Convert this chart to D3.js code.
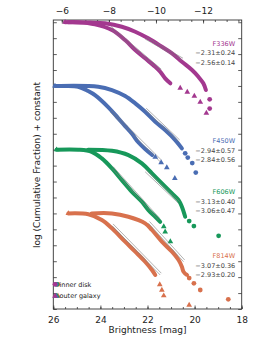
<!DOCTYPE html>
<html>
<head>
<meta charset="utf-8">
<script src="https://cdn.jsdelivr.net/npm/d3@7"></script>
<style>
body { margin: 0; background: #fff; }
text { font-family: "DejaVu Sans", sans-serif; }
</style>
</head>
<body>
<svg id="chart" width="258" height="343"></svg>
<script>
// filters, offsets (the "+ constant") and fitted slopes
const filters = ["F336W", "F450W", "F606W", "F814W"];
const offsets = [0, -2, -4, -6];
const slopeLine1 = ["\u22122.31\u00b10.24", "\u22122.94\u00b10.57", "\u22123.13\u00b10.40", "\u22123.07\u00b10.36"];
const slopeLine2 = ["\u22122.56\u00b10.14", "\u22122.84\u00b10.56", "\u22123.06\u00b10.47", "\u22122.93\u00b10.20"];
const distMod = 31.64;

// [brightness mag, log cumulative fraction]
const f336Inner = [[25.37,0],[24.44,-0.01],[23.80,-0.035],[23.09,-0.141],[22.52,-0.298],[21.97,-0.505],[21.39,-0.769],[20.96,-0.976],[20.54,-1.240],[20.11,-1.500],[19.84,-1.711],[19.63,-1.918],[19.52,-2.128]];
const f336InnerTail = [[19.36,-2.42],[19.36,-2.71]];
const f336Outer = [[25.50,0],[24.94,0],[24.23,-0.066],[23.51,-0.245],[22.95,-0.559],[22.52,-0.873],[22.10,-1.133],[21.67,-1.397],[21.46,-1.554],[21.25,-1.761],[21.03,-1.918]];
const f336OuterTail = [[20.61,-2.065],[20.31,-2.191],[20.01,-2.316],[19.76,-2.505],[19.50,-2.850]];
const f336Fits = [[22.10,-0.527,20.54,-1.186],[23.59,-0.191,21.46,-1.532]];

const f450Inner = [[25.71,0],[24.09,-0.025],[23.51,-0.129],[22.95,-0.317],[22.52,-0.546],[22.10,-0.810],[21.67,-1.124],[21.25,-1.384],[20.82,-1.698],[20.54,-1.959]];
const f450InnerTail = [[20.40,-2.115],[20.29,-2.247],[20.10,-2.420],[19.95,-2.718]];
const f450Outer = [[25.93,0],[25.50,0],[24.94,-0.025],[24.52,-0.16],[24.23,-0.286],[23.67,-0.662],[23.25,-1.008],[22.95,-1.259],[22.65,-1.510],[22.40,-1.761],[22.10,-1.981],[21.80,-2.169]];
const f450OuterTail = [[21.67,-2.232],[21.42,-2.404],[21.18,-2.561],[20.84,-2.900]];
const f450Fits = [[22.10,-0.756,20.68,-1.751],[23.59,-0.810,21.46,-2.379]];

const f606Inner = [[24.52,0],[23.51,-0.035],[22.81,-0.169],[22.24,-0.43],[21.81,-0.744],[21.39,-1.058],[20.96,-1.372],[20.68,-1.582],[20.54,-1.792],[20.40,-2.106]];
const f606InnerTail = [[20.23,-2.241],[20.03,-2.398],[18.98,-2.702]];
const f606Outer = [[25.86,0],[24.94,0],[24.37,-0.066],[23.94,-0.273],[23.51,-0.587],[23.09,-0.954],[22.66,-1.321],[22.24,-1.635],[21.96,-1.896],[21.67,-2.106],[21.46,-2.263]];
const f606OuterTail = [[21.31,-2.414],[21.25,-2.577],[21.03,-2.884]];
const f606Fits = [[22.10,-0.694,20.68,-1.686],[23.51,-0.587,21.53,-2.21]];

const f814Inner = [[24.37,0],[23.51,0],[22.81,-0.104],[22.10,-0.311],[21.81,-0.521],[21.39,-0.888],[20.96,-1.202],[20.68,-1.463],[20.54,-1.673],[20.47,-1.830],[20.32,-1.933]];
const f814InnerTail = [[20.23,-2.028],[20.03,-2.194],[19.76,-2.404],[18.57,-2.696]];
const f814Outer = [[25.36,0],[24.51,-0.028],[23.94,-0.207],[23.51,-0.468],[22.95,-0.888],[22.52,-1.202],[22.10,-1.516],[21.81,-1.777],[21.67,-1.933]];
const f814OuterTail = [[21.48,-2.232],[21.39,-2.404],[21.31,-2.583],[20.23,-2.875]];
const f814Fits = [[21.96,-0.311,20.47,-1.516],[23.51,-0.386,21.46,-1.933]];

const legendLabels = ["inner disk", "outer galaxy"];

const colors = ["#a3388f", "#4a6db3", "#17985a", "#d8714d"];
const labelTop = [-0.74, -1.8, -1.4, -1.4];

const groups = filters.map((f, i) => ({
    name: f, off: offsets[i], color: colors[i], labelTop: labelTop[i],
    slopes: [slopeLine1[i], slopeLine2[i]],
    inner: [f336Inner, f450Inner, f606Inner, f814Inner][i],
    innerTail: [f336InnerTail, f450InnerTail, f606InnerTail, f814InnerTail][i],
    outer: [f336Outer, f450Outer, f606Outer, f814Outer][i],
    outerTail: [f336OuterTail, f450OuterTail, f606OuterTail, f814OuterTail][i],
    fits: [f336Fits, f450Fits, f606Fits, f814Fits][i]
}));

const svg = d3.select("svg#chart");
const width = +svg.attr("width");
const height = +svg.attr("height");
const margin = { top: 20, right: 16.3, bottom: 34, left: 53.3 };

const x = d3.scaleLinear().domain([26, 18]).range([margin.left, width - margin.right]);
const xTop = d3.scaleLinear().domain([26 - distMod, 18 - distMod]).range([margin.left, width - margin.right]);
const y = d3.scaleLinear().domain([-9.0, 0.07]).range([height - margin.bottom, margin.top]);

const axes = svg.append("g").attr("id", "axes");
const plot = svg.append("g").attr("id", "plot");

// frame
axes.append("rect")
    .attr("x", margin.left).attr("y", margin.top)
    .attr("width", width - margin.left - margin.right)
    .attr("height", height - margin.top - margin.bottom)
    .attr("fill", "none").attr("stroke", "#333").attr("stroke-width", 0.9);

function styleAxis(g) {
    g.select(".domain").remove();
    g.selectAll("line").attr("stroke", "#333").attr("stroke-width", 0.8);
    g.selectAll("text").attr("fill", "#222").style("font-size", "9px");
}

const yB = height - margin.bottom;
axes.append("g").attr("transform", `translate(0,${yB})`)
    .call(d3.axisBottom(x).tickValues(d3.range(26, 17.9, -0.5)).tickSize(-2).tickFormat(""))
    .call(styleAxis);
axes.append("g").attr("transform", `translate(0,${yB})`)
    .call(d3.axisBottom(x).tickValues([26, 24, 22, 20, 18]).tickSize(-3.5).tickPadding(7.5).tickFormat(d3.format("d")))
    .call(styleAxis);

axes.append("g").attr("transform", `translate(0,${margin.top})`)
    .call(d3.axisTop(xTop).tickValues(d3.range(-6, -13.6, -0.5)).tickSize(-2).tickFormat(""))
    .call(styleAxis);
axes.append("g").attr("transform", `translate(0,${margin.top})`)
    .call(d3.axisTop(xTop).tickValues([-6, -8, -10, -12]).tickSize(-3.5).tickPadding(6.5)
        .tickFormat(d => "\u2212" + Math.abs(d)))
    .call(styleAxis);

const yTicks = d3.range(-9, 0.01, 0.5);
axes.append("g").attr("transform", `translate(${margin.left},0)`)
    .call(d3.axisLeft(y).tickValues(yTicks).tickSize(-3.5).tickFormat(""))
    .call(styleAxis);
axes.append("g").attr("transform", `translate(${width - margin.right},0)`)
    .call(d3.axisRight(y).tickValues(yTicks).tickSize(-3.5).tickFormat(""))
    .call(styleAxis);

// axis titles
axes.append("text")
    .attr("x", (margin.left + width - margin.right) / 2).attr("y", 332.5)
    .attr("text-anchor", "middle").style("font-size", "9px").attr("fill", "#222")
    .text("Brightness [mag]");
axes.append("text")
    .attr("transform", "translate(39.5,165) rotate(-90)")
    .attr("text-anchor", "middle").style("font-size", "9px").attr("fill", "#222")
    .text("log (Cumulative Fraction) + constant");

const tri = d3.symbol(d3.symbolTriangle).size(14);
const circ = d3.symbol(d3.symbolCircle).size(18);

groups.forEach(g => {
    const line = d3.line()
        .x(d => x(d[0]))
        .y(d => y(d[1] + g.off))
        .curve(d3.curveCatmullRom.alpha(0.5));

    const grp = plot.append("g").attr("class", "filter").attr("id", g.name);

    [g.outer, g.inner].forEach(band => {
        grp.append("path")
            .attr("d", line(band))
            .attr("fill", "none")
            .attr("stroke", g.color)
            .attr("stroke-width", 4)
            .attr("stroke-linecap", "round")
            .attr("stroke-linejoin", "round");
    });

    // first outer point is shown as a triangle
    grp.append("path")
        .attr("transform", `translate(${x(g.outer[0][0])},${y(g.outer[0][1] + g.off)})`)
        .attr("d", tri()).attr("fill", g.color);

    // fitted power laws, drawn as a thin double line
    g.fits.forEach(f => {
        [0, 1].forEach(k => {
            grp.append("line")
                .attr("x1", x(f[0])).attr("y1", y(f[1] + g.off))
                .attr("x2", x(f[2])).attr("y2", y(f[3] + g.off))
                .attr("transform", `translate(${k * 1.1},${-k * 1.8})`)
                .attr("stroke", "#7d7d7d").attr("stroke-width", 0.6);
        });
    });

    grp.selectAll("path.tri").data(g.outerTail).join("path")
        .attr("class", "tri")
        .attr("transform", d => `translate(${x(d[0])},${y(d[1] + g.off)})`)
        .attr("d", tri()).attr("fill", g.color);
    grp.selectAll("path.circ").data(g.innerTail).join("path")
        .attr("class", "circ")
        .attr("transform", d => `translate(${x(d[0])},${y(d[1] + g.off)})`)
        .attr("d", circ()).attr("fill", g.color);

    // labels on the right
    const ly = y(g.labelTop + g.off);
    const lx = width - margin.right - 6.5;
    grp.append("text").attr("x", lx).attr("y", ly).attr("text-anchor", "end")
        .style("font-size", "6.5px").attr("fill", g.color).text(g.name);
    g.slopes.forEach((s, k) => {
        grp.append("text").attr("x", lx).attr("y", ly + 9.5 * (k + 1)).attr("text-anchor", "end")
            .style("font-size", "6.5px").attr("fill", "#444").text(s);
    });
});

// legend
const legend = svg.append("g").attr("id", "legend");
legendLabels.forEach((lab, k) => {
    const ly = 284.3 + k * 11.7;
    [3, 2, 1, 0].forEach(j => {
        legend.append("path")
            .attr("transform", `translate(${55 + j * 1},${ly})`)
            .attr("d", k === 0 ? circ() : tri())
            .attr("fill", colors[j]);
    });
    legend.append("text").attr("x", 59.5).attr("y", ly + 2.4)
        .style("font-size", "6.5px").attr("fill", "#222").text(lab);
});
</script>
</body>
</html>
